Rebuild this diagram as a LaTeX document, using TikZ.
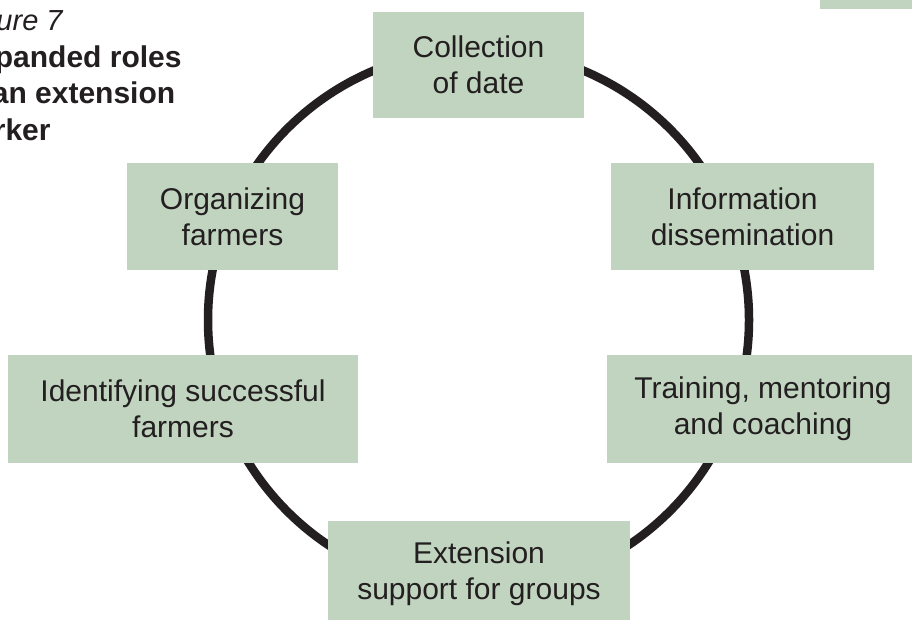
\documentclass[tikz,border=0pt]{standalone}
\usepackage{fontspec}
\setmainfont{Liberation Sans}
\definecolor{boxgreen}{RGB}{193,212,192}
\definecolor{inkdark}{RGB}{35,31,32}
\begin{document}
\begin{tikzpicture}[x=1pt,y=-1pt,
  rolebox/.style={fill=boxgreen, draw=none, inner sep=0pt, align=center,
    text=inkdark, font=\fontsize{30}{36}\selectfont},
  ring/.style={draw=inkdark, line width=8.5pt},
  titletext/.style={anchor=base west, inner sep=0pt, text=inkdark}]
\useasboundingbox (0,0) rectangle (912,620);
\clip (0,0) rectangle (912,620);
\fill[white] (0,0) rectangle (912,620);
% ring
\coordinate (c) at (478.5,320);
\draw[ring] (c) circle (270.5pt);
% corner tab
\node[fill=boxgreen, inner sep=0pt, minimum width=92pt, minimum height=9pt, anchor=north west] (tab) at (820,0) {};
% title
\node[titletext, font=\fontsize{29}{36}\selectfont\itshape] (t1) at (-44,31) {Figure 7};
\node[titletext, font=\fontsize{30}{36}\selectfont\bfseries] (t2) at (-42,67.5) {Expanded roles};
\node[titletext, font=\fontsize{30}{36}\selectfont\bfseries] (t3) at (-45,104) {of an extension};
\node[titletext, font=\fontsize{30}{36}\selectfont\bfseries] (t4) at (-48,140.5) {worker};
% boxes
\node[rolebox, minimum width=211pt, minimum height=106pt] (collect) at (478.5,65) {Collection\\of date};
\node[rolebox, minimum width=263pt, minimum height=107pt] (info) at (742.5,216.5) {Information\\dissemination};
\node[rolebox, minimum width=211pt, minimum height=107pt] (organize) at (232.5,216.5) {Organizing\\farmers};
\node[rolebox, minimum width=350pt, minimum height=108pt] (identify) at (183,409) {Identifying successful\\farmers};
\node[rolebox, minimum width=312pt, minimum height=108pt] (train) at (763,409) {Training, mentoring\\and coaching};
\node[rolebox, minimum width=302pt, minimum height=106pt] (extend) at (479,574) {Extension\\support for groups};
\end{tikzpicture}
\end{document}
